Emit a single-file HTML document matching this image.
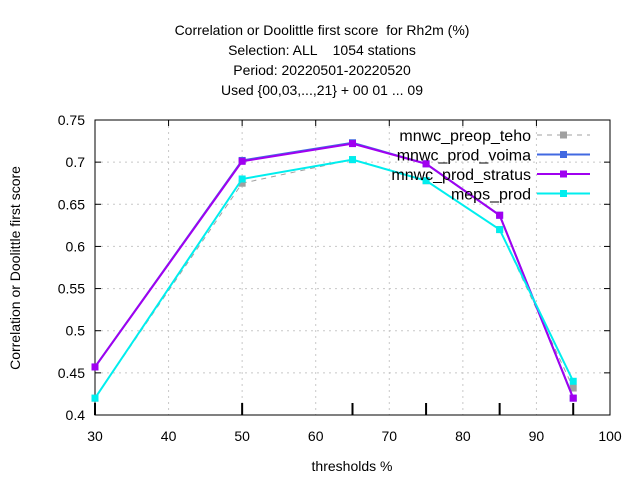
<!DOCTYPE html>
<html><head><meta charset="utf-8"><style>
body{margin:0;background:#fff;}
svg text{font-family:"Liberation Sans",sans-serif;font-size:14px;fill:#000;white-space:pre;}
</style></head><body>
<svg id="c" width="640" height="480" xmlns="http://www.w3.org/2000/svg">
<g>
<text x="322" y="35" text-anchor="middle">Correlation or Doolittle first score  for Rh2m (%)</text>
<text x="322" y="55" text-anchor="middle">Selection: ALL    1054 stations</text>
<text x="322" y="75" text-anchor="middle">Period: 20220501-20220520</text>
<text x="322" y="95" text-anchor="middle">Used {00,03,...,21} + 00 01 ... 09</text>
</g>
<text transform="translate(20,268) rotate(-90)" text-anchor="middle">Correlation or Doolittle first score</text>
<text x="352" y="471" text-anchor="middle">thresholds %</text>
<g id="grid"></g><g id="axes"></g><g id="series"></g><g id="legend"></g>
</svg>
<script>
const xs=[30,50,65,75,85,95];
const preopTeho=[0.420,0.675,0.703,0.678,0.620,0.432];
const prodVoima=[0.457,0.702,0.723,0.698,0.637,0.420];
const prodStratus=[0.457,0.701,0.722,0.698,0.637,0.420];
const mepsProd=[0.420,0.680,0.703,0.678,0.620,0.440];
const xTicks=[30,40,50,60,70,80,90,100];
const yTicks=[0.4,0.45,0.5,0.55,0.6,0.65,0.7,0.75];
const yLabels=["0.4","0.45","0.5","0.55","0.6","0.65","0.7","0.75"];
const L=95,R=610,T=120,B=415;
const sx=v=>L+(v-30)/70*(R-L), sy=v=>B-(v-0.4)/0.35*(B-T);
const NS="http://www.w3.org/2000/svg";
function mk(p,tag,a){const e=document.createElementNS(NS,tag);for(const k in a)e.setAttribute(k,a[k]);p.appendChild(e);return e;}
const grid=document.getElementById('grid'),axes=document.getElementById('axes'),ser=document.getElementById('series'),leg=document.getElementById('legend');
xTicks.forEach(t=>{const x=sx(t);
 if(t>30&&t<100){const g=mk(grid,'line',{x1:x,x2:x,y1:T,y2:B,stroke:'#c8c8c8','stroke-dasharray':'2,4'});
 
 }
 mk(axes,'line',{x1:x,x2:x,y1:T,y2:T+6,stroke:'#000'});
 const tx=mk(axes,'text',{x:x,y:B+26,'text-anchor':'middle'});tx.textContent=t;
 
 });
yTicks.forEach((t,i)=>{const y=sy(t);
 if(i>0&&i<yTicks.length-1){const g=mk(grid,'line',{x1:L,x2:R,y1:y,y2:y,stroke:'#c8c8c8','stroke-dasharray':'2,4'});
 
 }
 mk(axes,'line',{x1:L,x2:L+6,y1:y,y2:y,stroke:'#000'});
 mk(axes,'line',{x1:R,x2:R-6,y1:y,y2:y,stroke:'#000'});
 const tx=mk(axes,'text',{x:L-10,y:y+5,'text-anchor':'end'});tx.textContent=yLabels[i];
 
 });
xs.forEach(v=>{mk(axes,'line',{x1:sx(v),x2:sx(v),y1:B,y2:B-12,stroke:'#000','stroke-width':2});});
const fr=mk(axes,'rect',{x:L,y:T,width:R-L,height:B-T,fill:'none',stroke:'#000'});


const S=[["mnwc_preop_teho",preopTeho,'#a0a0a0','5,5',1],["mnwc_prod_voima",prodVoima,'#4169e1',null,2],["mnwc_prod_stratus",prodStratus,'#a000f0',null,2],["meps_prod",mepsProd,'#00eeee',null,2]];
S.forEach((s,k)=>{const g=mk(ser,'g',{});
 
 
 const a={points:xs.map((x,i)=>sx(x)+','+sy(s[1][i])).join(' '),fill:'none',stroke:s[2],'stroke-width':s[4]};if(s[3])a['stroke-dasharray']=s[3];
 mk(g,'polyline',a);
 xs.forEach((x,i)=>{const m=mk(g,'rect',{x:sx(x)-3.5,y:sy(s[1][i])-3.5,width:7,height:7,fill:s[2]});
 
 });
 const ly=135+k*19.5;const lg=mk(leg,'g',{});
 
 
 const t=mk(lg,'text',{x:531,y:ly+6,'text-anchor':'end',style:'font-size:16px'});t.textContent=s[0];
 const la={x1:537,x2:590,y1:ly,y2:ly,stroke:s[2],'stroke-width':s[4]};if(s[3])la['stroke-dasharray']=s[3];
 mk(lg,'line',la);mk(lg,'rect',{x:560,y:ly-3.5,width:7,height:7,fill:s[2]});});
</script>
</body></html>
